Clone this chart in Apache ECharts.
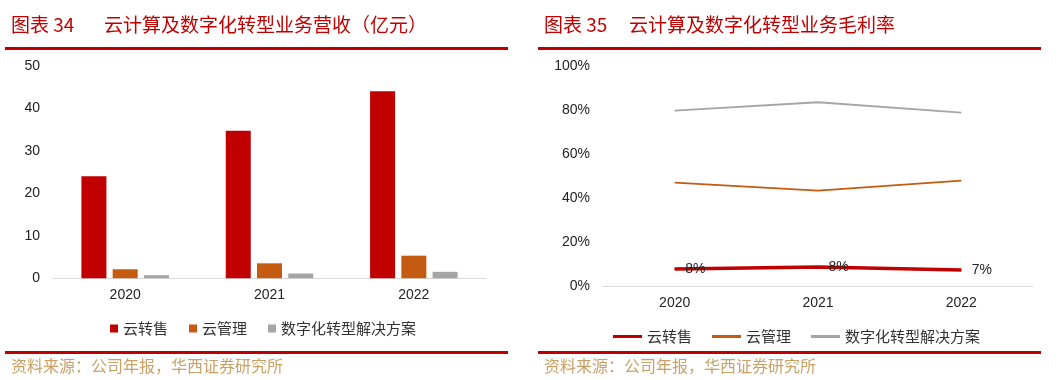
<!DOCTYPE html>
<html>
<head>
<meta charset="utf-8">
<script src="https://cdn.jsdelivr.net/npm/echarts@6/dist/echarts.min.js"></script>
<style>
html,body{margin:0;padding:0;background:#fff;}
#c{width:1061px;height:380px;}
</style>
</head>
<body>
<div id="c"></div>
<script>
const categories = ['2020', '2021', '2022'];
const seriesNames = ['云转售', '云管理', '数字化转型解决方案'];
const revenueResale = [24.0, 34.7, 44.0];
const revenueManage = [2.1, 3.5, 5.3];
const revenueDigital = [0.7, 1.1, 1.5];
const marginResale = [7.7, 8.6, 7.3];
const marginManage = [46.9, 43.3, 47.8];
const marginDigital = [79.6, 83.4, 78.7];
const marginLabels = ['8%', '8%', '7%'];
const leftTitleNo = '图表 34';
const leftTitle = '云计算及数字化转型业务营收（亿元）';
const rightTitleNo = '图表 35';
const rightTitle = '云计算及数字化转型业务毛利率';
const sourceText = '资料来源：公司年报，华西证券研究所';

const colors = ['#c00000', '#c55a11', '#a5a5a5'];
const cjk = '"Noto Sans CJK SC", "Liberation Sans", sans-serif';
const num = '"Liberation Sans", Arial, sans-serif';

const chart = echarts.init(document.getElementById('c'));

function redRule(x, y, w) {
  return { type: 'rect', left: x, top: y, shape: { width: w, height: 3 }, style: { fill: '#c00000' } };
}
const titleStyle = { fontFamily: cjk, fontSize: 19, fontWeight: 'normal', color: '#c00000' };
const srcStyle = { fontFamily: cjk, fontSize: 16, fontWeight: 'normal', color: '#c9a066' };

chart.setOption({
  backgroundColor: '#ffffff',
  animation: false,
  title: [
    { text: leftTitleNo, left: 6, top: 10, textStyle: titleStyle },
    { text: leftTitle, left: 99, top: 10, textStyle: titleStyle },
    { text: rightTitleNo, left: 539, top: 10, textStyle: titleStyle },
    { text: rightTitle, left: 624, top: 10, textStyle: titleStyle },
    { text: sourceText, left: 6, top: 353, textStyle: srcStyle },
    { text: sourceText, left: 539, top: 353, textStyle: srcStyle }
  ],
  graphic: [
    redRule(5, 47, 503),
    redRule(538, 47, 503),
    redRule(5, 351, 503),
    redRule(538, 351, 503)
  ],
  legend: [
    {
      left: 105, top: 316,
      itemWidth: 8, itemHeight: 8, itemGap: 21,
      textStyle: { fontFamily: cjk, fontSize: 15, color: '#333' },
      data: seriesNames.map(n => ({ name: n, icon: 'rect' }))
    },
    {
      left: 608, top: 324,
      itemWidth: 29, itemHeight: 3, itemGap: 20,
      textStyle: { fontFamily: cjk, fontSize: 15, color: '#333' },
      data: seriesNames.map(n => ({ name: n, icon: 'rect' }))
    }
  ],
  grid: [
    { left: 53, top: 65.7, width: 433, height: 212.5 },
    { left: 603, top: 65.7, width: 430, height: 220.3 }
  ],
  xAxis: [
    {
      gridIndex: 0, type: 'category', data: categories,
      axisLine: { lineStyle: { color: '#d9d9d9', width: 1 } },
      axisTick: { show: false },
      axisLabel: { fontFamily: num, fontSize: 14, color: '#222', margin: 10 }
    },
    {
      gridIndex: 1, type: 'category', data: categories,
      axisLine: { lineStyle: { color: '#d9d9d9', width: 1 } },
      axisTick: { show: false },
      axisLabel: { fontFamily: num, fontSize: 14, color: '#222', margin: 10 }
    }
  ],
  yAxis: [
    {
      gridIndex: 0, type: 'value', min: 0, max: 50, interval: 10,
      axisLine: { show: false }, axisTick: { show: false }, splitLine: { show: false },
      axisLabel: { fontFamily: num, fontSize: 14, color: '#222', margin: 13 }
    },
    {
      gridIndex: 1, type: 'value', min: 0, max: 100, interval: 20,
      axisLine: { show: false }, axisTick: { show: false }, splitLine: { show: false },
      axisLabel: { fontFamily: num, fontSize: 14, color: '#222', margin: 13, formatter: '{value}%' }
    }
  ],
  series: [
    { name: seriesNames[0], type: 'bar', xAxisIndex: 0, yAxisIndex: 0, data: revenueResale, barWidth: 25, barGap: '25%', itemStyle: { color: colors[0] } },
    { name: seriesNames[1], type: 'bar', xAxisIndex: 0, yAxisIndex: 0, data: revenueManage, barWidth: 25, barGap: '25%', itemStyle: { color: colors[1] } },
    { name: seriesNames[2], type: 'bar', xAxisIndex: 0, yAxisIndex: 0, data: revenueDigital, barWidth: 25, barGap: '25%', itemStyle: { color: colors[2] } },
    {
      name: seriesNames[0], type: 'line', xAxisIndex: 1, yAxisIndex: 1, data: marginResale,
      symbol: 'circle', symbolSize: 1, showSymbol: true,
      lineStyle: { color: colors[0], width: 3.5 }, itemStyle: { color: colors[0] },
      label: {
        show: true, position: 'right', distance: 10,
        fontFamily: num, fontSize: 14, color: '#222',
        formatter: p => marginLabels[p.dataIndex]
      },
      z: 5
    },
    {
      name: seriesNames[1], type: 'line', xAxisIndex: 1, yAxisIndex: 1, data: marginManage,
      symbol: 'none', lineStyle: { color: colors[1], width: 1.8 }, itemStyle: { color: colors[1] }
    },
    {
      name: seriesNames[2], type: 'line', xAxisIndex: 1, yAxisIndex: 1, data: marginDigital,
      symbol: 'none', lineStyle: { color: colors[2], width: 1.8 }, itemStyle: { color: colors[2] }
    }
  ]
});
</script>
</body>
</html>
